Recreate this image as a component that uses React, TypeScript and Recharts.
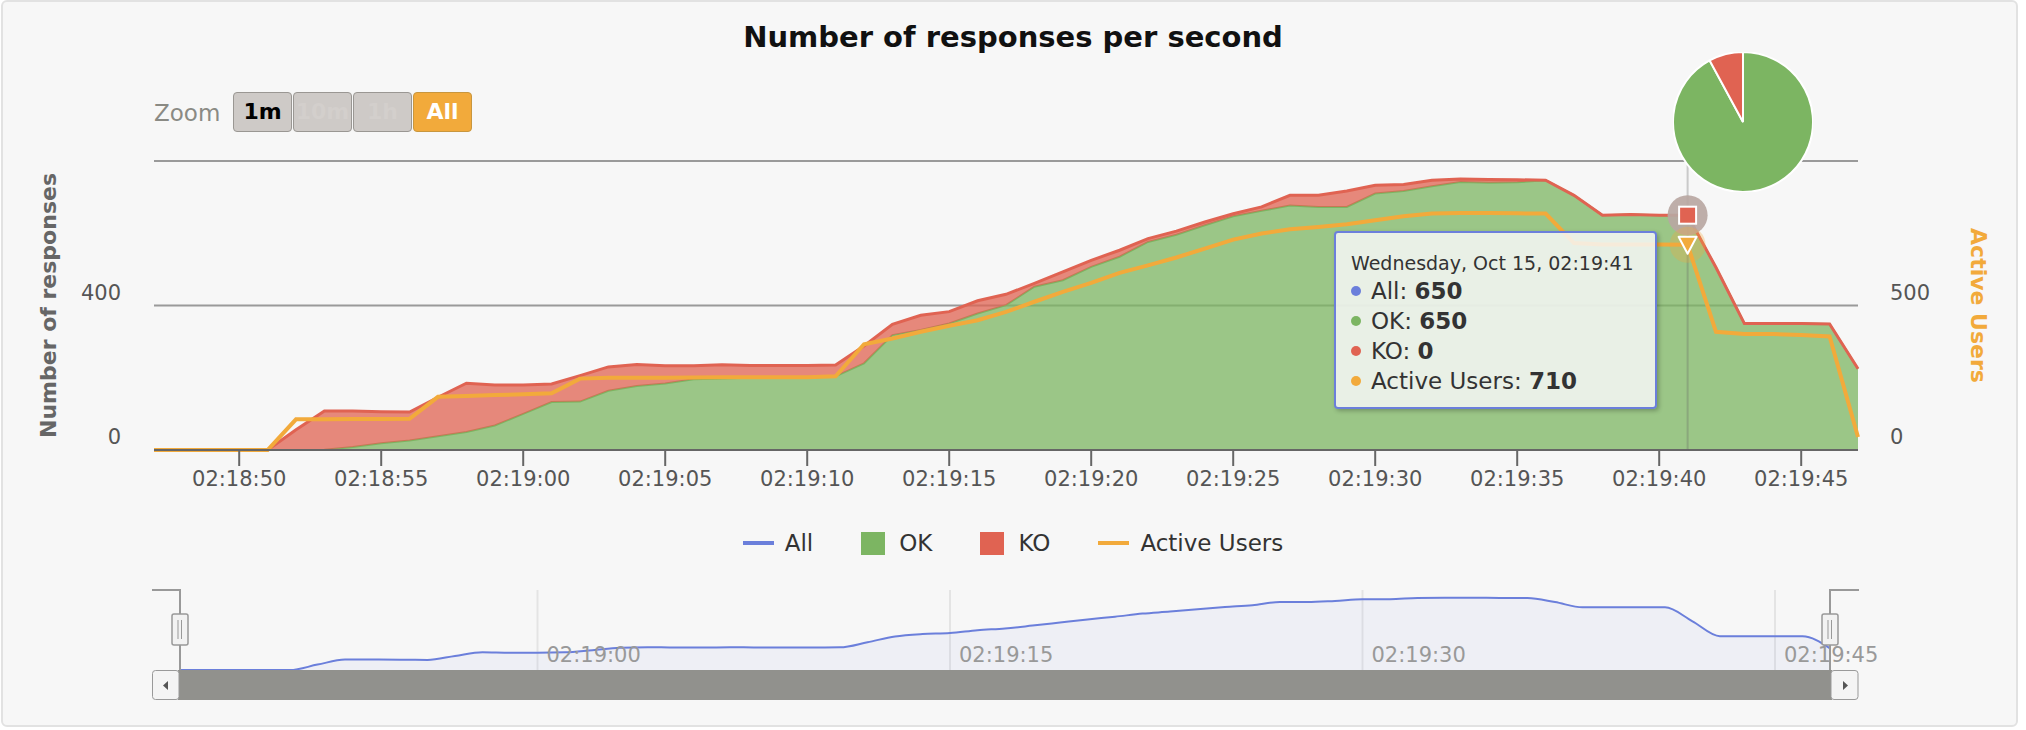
import React from "react";
import {
  ComposedChart,
  AreaChart,
  PieChart,
  Pie,
  Cell,
  Area,
  Line,
  XAxis,
  YAxis,
  CartesianGrid,
  Tooltip,
} from "recharts";

const FONT = '"DejaVu Sans", Verdana, sans-serif';

// one sample per second, starting at this clock time
const firstSample = "02:18:47";

const okCounts = [
  0, 0, 0, 0, 0, 0, 1, 8, 19, 26, 38, 50, 68,
  100, 133, 134, 164, 177, 184, 196, 198, 200, 200, 200, 204,
  240, 318, 332, 350, 378, 401, 452, 470, 507, 535, 576, 596,
  622, 647, 662, 677, 673, 673, 710, 717, 730, 742, 740, 741,
  747, 705, 650, 652, 650, 650, 505, 350, 350, 350, 349, 225,
];

const allCounts = [
  0, 0, 0, 0, 0, 56, 108, 108, 106, 105, 146, 185, 180,
  180, 183, 206, 230, 237, 233, 233, 236, 234, 234, 234, 235,
  288, 348, 373, 383, 413, 431, 461, 493, 525, 553, 585, 606,
  631, 654, 673, 705, 705, 717, 733, 735, 747, 750, 749, 748,
  747, 705, 650, 652, 650, 650, 505, 350, 350, 350, 349, 225,
];

const activeUsers = [
  0, 0, 0, 0, 0, 106, 106, 107, 107, 108, 184, 187, 190,
  193, 196, 247, 250, 250, 250, 251, 252, 252, 252, 252, 255,
  366, 386, 409, 430, 449, 478, 513, 547, 578, 613, 639, 666,
  697, 728, 749, 764, 772, 781, 795, 809, 818, 820, 820, 819,
  818, 716, 711, 711, 711, 710, 409, 401, 401, 398, 393, 45,
];

const xTickLabels = [
  "02:18:50", "02:18:55", "02:19:00", "02:19:05", "02:19:10", "02:19:15",
  "02:19:20", "02:19:25", "02:19:30", "02:19:35", "02:19:40", "02:19:45",
];
const navTickLabels = ["02:19:00", "02:19:15", "02:19:30", "02:19:45"];
const leftTicks = [0, 400, 800];
const rightTicks = [0, 500, 1000];
const navMax = 830;

const zoomButtons = ["1m", "10m", "1h", "All"];
const tooltipDay = "Wednesday, Oct 15";
const focusTime = "02:19:41";

const COLORS = {
  all: "#6b7fdb",
  ok: "#7cb562",
  ko: "#e06352",
  users: "#f2aa3b",
};

const toClock = (s: number) =>
  [Math.floor(s / 3600), Math.floor(s / 60) % 60, s % 60]
    .map((n) => String(n).padStart(2, "0"))
    .join(":");

const [h0, m0, s0] = firstSample.split(":").map(Number);
const times = okCounts.map((_, i) => toClock(h0 * 3600 + m0 * 60 + s0 + i));

const rows = times.map((time, i) => ({
  i,
  time,
  ok: okCounts[i],
  ko: allCounts[i] - okCounts[i],
  all: allCounts[i],
  users: activeUsers[i],
}));

const xTicks = xTickLabels.map((l) => times.indexOf(l));
const navTicks = navTickLabels.map((l) => times.indexOf(l));
const focusIndex = times.indexOf(focusTime);

const okTotal = okCounts.reduce((a, b) => a + b, 0);
const koTotal = rows.reduce((a, r) => a + r.ko, 0);
const pieData = [
  { name: "OK", value: okTotal, color: COLORS.ok },
  { name: "KO", value: koTotal, color: COLORS.ko },
];

const legendItems = [
  { name: "All", color: COLORS.all, symbol: "line" },
  { name: "OK", color: COLORS.ok, symbol: "square" },
  { name: "KO", color: COLORS.ko, symbol: "square" },
  { name: "Active Users", color: COLORS.users, symbol: "line" },
];

const NAV_TOP = 10;
const NAV_PLOT_H = 80;

const LeftTick = (p: any) => {
  if (p.payload.value === leftTicks[leftTicks.length - 1]) return <g />;
  return (
    <text x={p.x} y={p.y - 13} textAnchor="end" dominantBaseline="central" fill="#555" fontSize={21}>
      {p.payload.value}
    </text>
  );
};

const RightTick = (p: any) => {
  if (p.payload.value === rightTicks[rightTicks.length - 1]) return <g />;
  return (
    <text x={p.x} y={p.y - 13} textAnchor="start" dominantBaseline="central" fill="#555" fontSize={21}>
      {p.payload.value}
    </text>
  );
};

const LeftTitle = ({ viewBox }: any) => {
  const x = viewBox.x + 48;
  const y = viewBox.y + viewBox.height / 2;
  return (
    <text x={x} y={y} transform={`rotate(-90, ${x}, ${y})`} textAnchor="middle" dominantBaseline="central"
      fill="#666" fontSize={22} fontWeight="bold">
      Number of responses
    </text>
  );
};

const RightTitle = ({ viewBox }: any) => {
  const x = viewBox.x + 120;
  const y = viewBox.y + viewBox.height / 2;
  return (
    <text x={x} y={y} transform={`rotate(90, ${x}, ${y})`} textAnchor="middle" dominantBaseline="central"
      fill={COLORS.users} fontSize={22} fontWeight="bold">
      Active Users
    </text>
  );
};

const NavTick = (p: any) => (
  <text x={p.x + 9} y={NAV_TOP + NAV_PLOT_H - 15} textAnchor="start" dominantBaseline="central" fill="#999" fontSize={21}>
    {times[p.payload.value]}
  </text>
);

const SquareDot = (p: any) => {
  const { cx, cy } = p;
  if (cx == null || cy == null) return <g />;
  return (
    <g>
      <circle cx={cx} cy={cy} r={20} fill="#b9a7a2" fillOpacity={0.92} />
      <rect x={cx - 8.5} y={cy - 8.5} width={17} height={17} fill={COLORS.ko} stroke="#fff" strokeWidth={2} />
    </g>
  );
};

const TriangleDot = (p: any) => {
  const { cx, cy } = p;
  if (cx == null || cy == null) return <g />;
  return (
    <g>
      <circle cx={cx} cy={cy} r={18} fill={COLORS.users} fillOpacity={0.3} />
      <path d={`M${cx - 9},${cy - 8} L${cx + 9},${cy - 8} L${cx},${cy + 9} Z`} fill={COLORS.users}
        stroke="#fff" strokeWidth={2} strokeLinejoin="round" />
    </g>
  );
};

const TipBox = ({ active, payload }: any) => {
  if (!active || !payload || !payload.length) return null;
  const row = payload[0].payload;
  const lines = [
    { name: "All", color: COLORS.all, value: row.all },
    { name: "OK", color: COLORS.ok, value: row.ok },
    { name: "KO", color: COLORS.ko, value: row.ko },
    { name: "Active Users", color: COLORS.users, value: row.users },
  ];
  return (
    <div
      style={{
        width: 323,
        boxSizing: "border-box",
        padding: "17px 10px 11px 15px",
        background: "rgba(247,247,247,0.85)",
        border: `2px solid ${COLORS.all}`,
        borderRadius: 4,
        boxShadow: "2px 2px 4px rgba(0,0,0,0.25)",
        fontFamily: FONT,
        color: "#333",
        whiteSpace: "nowrap",
      }}
    >
      <div style={{ fontSize: 19, lineHeight: "26px" }}>
        {tooltipDay}, {row.time}
      </div>
      {lines.map((l) => (
        <div key={l.name} style={{ fontSize: 23, lineHeight: "30px", display: "flex", alignItems: "center" }}>
          <span style={{ width: 10, height: 10, borderRadius: 5, background: l.color, marginRight: 10, flex: "none" }} />
          <span>
            {l.name}: <b>{l.value}</b>
          </span>
        </div>
      ))}
    </div>
  );
};

const Legend = () => (
  <div
    style={{
      position: "absolute",
      left: 0,
      top: 528,
      width: 2026,
      display: "flex",
      justifyContent: "center",
      fontSize: 23,
      lineHeight: "30px",
      color: "#333",
    }}
  >
    {legendItems.map((it, k) => (
      <div key={it.name} style={{ display: "flex", alignItems: "center", marginLeft: k === 0 ? 0 : 48 }}>
        {it.symbol === "line" ? (
          <span style={{ width: 31, height: 4, background: it.color, marginRight: 11 }} />
        ) : (
          <span style={{ width: 24, height: 23, background: it.color, marginRight: 14 }} />
        )}
        <span>{it.name}</span>
      </div>
    ))}
  </div>
);

const ZoomBar = () => (
  <div style={{ position: "absolute", left: 0, top: 0 }}>
    <div style={{ position: "absolute", left: 154, top: 99, fontSize: 23, lineHeight: "28px", color: "#8a8a84" }}>
      Zoom
    </div>
    {zoomButtons.map((b, k) => {
      const selected = b === "All";
      const enabled = b === "1m";
      return (
        <div
          key={b}
          style={{
            position: "absolute",
            left: 233 + k * 60,
            top: 92,
            width: 59,
            height: 40,
            boxSizing: "border-box",
            border: `1.5px solid ${selected ? "#c8963e" : "#9a9793"}`,
            borderRadius: 4,
            background: selected ? COLORS.users : "#cecac7",
            color: selected ? "#fff" : enabled ? "#000" : "#d3cfcc",
            fontWeight: "bold",
            fontSize: 22,
            lineHeight: "37px",
            textAlign: "center",
          }}
        >
          {b}
        </div>
      );
    })}
  </div>
);

const NavChrome = () => (
  <svg width={2026} height={730} style={{ position: "absolute", left: 0, top: 0, pointerEvents: "none" }}>
    <rect x={178} y={670} width={1654} height={30} fill="#91918d" />
    <rect x={152.5} y={670.5} width={26.5} height={29} rx={3} fill="#f4f4f4" stroke="#999" strokeWidth={1} />
    <path d="M163,685.5 L168,681 L168,690 Z" fill="#555" />
    <rect x={1831} y={670.5} width={27} height={29} rx={3} fill="#f4f4f4" stroke="#999" strokeWidth={1} />
    <path d="M1848,685.5 L1843,681 L1843,690 Z" fill="#555" />
    <path d="M152,590 L180,590 L180,670" fill="none" stroke="#999" strokeWidth={2} />
    <path d="M1859,590 L1830,590 L1830,670" fill="none" stroke="#999" strokeWidth={2} />
    {[180, 1830].map((x) => (
      <g key={x}>
        <rect x={x - 8} y={614} width={16} height={31} rx={2} fill="#f2f2f2" stroke="#999" strokeWidth={1.5} />
        <line x1={x - 2} y1={620} x2={x - 2} y2={639} stroke="#999" strokeWidth={1} />
        <line x1={x + 1.5} y1={620} x2={x + 1.5} y2={639} stroke="#999" strokeWidth={1} />
      </g>
    ))}
  </svg>
);

export default function App() {
  return (
    <div
      style={{
        position: "absolute",
        left: 0,
        top: 0,
        width: 2026,
        height: 730,
        background: "#fff",
        fontFamily: FONT,
        overflow: "hidden",
      }}
    >
      <div
        style={{
          position: "absolute",
          left: 1,
          top: 0,
          width: 2017,
          height: 727,
          boxSizing: "border-box",
          border: "2px solid #e2e2e2",
          borderRadius: 6,
          background: "#f7f7f7",
        }}
      />
      <div
        style={{
          position: "absolute",
          left: 0,
          top: 19,
          width: 2026,
          textAlign: "center",
          fontSize: 29,
          lineHeight: "36px",
          fontWeight: "bold",
          color: "#111",
        }}
      >
        Number of responses per second
      </div>
      <ZoomBar />

      <div style={{ position: "absolute", left: 0, top: 0 }}>
        <ComposedChart width={2026} height={500} data={rows} margin={{ top: 161, right: 0, bottom: 0, left: 0 }}>
          <CartesianGrid yAxisId="left" vertical={false} stroke="#9a9a9a" strokeWidth={2} />
          <XAxis
            dataKey="i"
            type="number"
            domain={[0, rows.length - 1]}
            ticks={xTicks}
            tickFormatter={(v: number) => times[v]}
            height={50}
            tickSize={16}
            tickMargin={5}
            axisLine={{ stroke: "#666", strokeWidth: 2 }}
            tickLine={{ stroke: "#666", strokeWidth: 2 }}
            tick={{ fill: "#555", fontSize: 21 }}
            interval={0}
          />
          <YAxis
            yAxisId="left"
            domain={[0, 800]}
            ticks={leftTicks}
            width={154}
            axisLine={false}
            tickLine={false}
            tickSize={0}
            tickMargin={33}
            tick={<LeftTick />}
            label={<LeftTitle />}
            interval={0}
          />
          <YAxis
            yAxisId="users"
            orientation="right"
            domain={[0, 1000]}
            ticks={rightTicks}
            width={168}
            axisLine={false}
            tickLine={false}
            tickSize={0}
            tickMargin={32}
            tick={<RightTick />}
            label={<RightTitle />}
            interval={0}
          />
          <Area
            yAxisId="left"
            type="linear"
            dataKey="ok"
            name="OK"
            stackId="rps"
            stroke={COLORS.ok}
            strokeWidth={2}
            fill={COLORS.ok}
            fillOpacity={0.75}
            activeDot={false}
            isAnimationActive={false}
          />
          <Area
            yAxisId="left"
            type="linear"
            dataKey="ko"
            name="KO"
            stackId="rps"
            stroke={COLORS.ko}
            strokeWidth={3}
            fill={COLORS.ko}
            fillOpacity={0.75}
            activeDot={<SquareDot />}
            isAnimationActive={false}
          />
          <Line
            yAxisId="users"
            type="linear"
            dataKey="users"
            name="Active Users"
            stroke={COLORS.users}
            strokeWidth={4}
            dot={false}
            activeDot={<TriangleDot />}
            isAnimationActive={false}
          />
          <Tooltip
            defaultIndex={focusIndex}
            active
            position={{ x: 1334, y: 231 }}
            content={<TipBox />}
            cursor={{ stroke: "rgba(100,100,100,0.3)", strokeWidth: 2 }}
            isAnimationActive={false}
            wrapperStyle={{ outline: "none", zIndex: 5 }}
          />
        </ComposedChart>
      </div>

      <div style={{ position: "absolute", left: 1673, top: 52, zIndex: 6 }}>
        <PieChart width={140} height={140} margin={{ top: 0, right: 0, bottom: 0, left: 0 }}>
          <Pie
            data={pieData}
            dataKey="value"
            cx={70}
            cy={70}
            outerRadius={70}
            startAngle={90}
            endAngle={-270}
            stroke="#fff"
            strokeWidth={2}
            isAnimationActive={false}
          >
            {pieData.map((d) => (
              <Cell key={d.name} fill={d.color} />
            ))}
          </Pie>
        </PieChart>
      </div>

      <Legend />

      <div style={{ position: "absolute", left: 0, top: 580 }}>
        <AreaChart width={2026} height={NAV_TOP + NAV_PLOT_H + 20} data={rows}
          margin={{ top: NAV_TOP, right: 196, bottom: 0, left: 180 }}>
          <CartesianGrid horizontal={false} stroke="#e4e4e4" strokeWidth={2} />
          <XAxis
            dataKey="i"
            type="number"
            domain={[0, rows.length - 1]}
            ticks={navTicks}
            height={20}
            tickSize={0}
            tickMargin={0}
            axisLine={false}
            tickLine={false}
            tick={<NavTick />}
            interval={0}
          />
          <YAxis hide domain={[0, navMax]} />
          <Area
            type="monotone"
            dataKey="all"
            stroke={COLORS.all}
            strokeWidth={2}
            fill={COLORS.all}
            fillOpacity={0.06}
            dot={false}
            activeDot={false}
            isAnimationActive={false}
          />
        </AreaChart>
      </div>
      <NavChrome />
    </div>
  );
}
